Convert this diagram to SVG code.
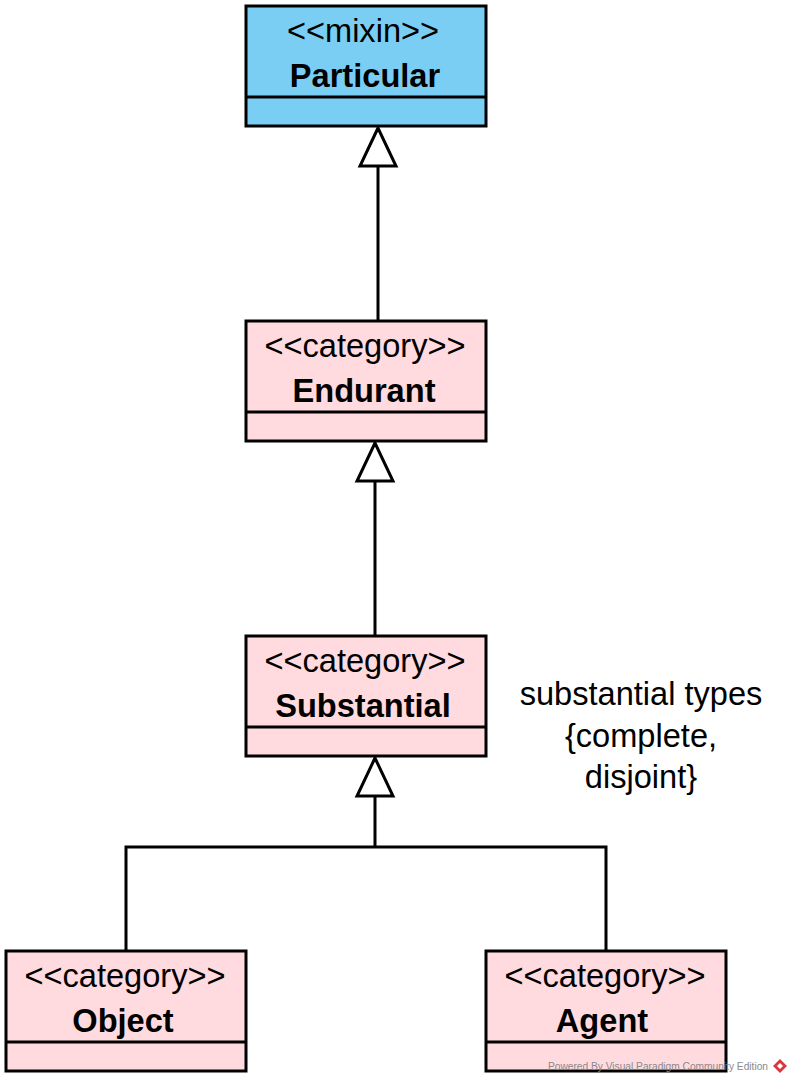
<svg xmlns="http://www.w3.org/2000/svg" width="792" height="1083" viewBox="0 0 792 1083">
<style>
.box{stroke:#000;stroke-width:3}
.blue{fill:#7ACEF4}
.pink{fill:#FFDADE}
.div{stroke:#000;stroke-width:3}
.st{font-family:"Liberation Sans",Arial,sans-serif;font-size:32.6px;text-anchor:middle;fill:#000}
.nm{font-family:"Liberation Sans",Arial,sans-serif;font-size:32.6px;font-weight:bold;text-anchor:middle;fill:#000}
.ln{stroke:#000;stroke-width:3;fill:none}
.head{fill:#fff;stroke:#000;stroke-width:3;stroke-linejoin:miter}
.note{font-family:"Liberation Sans",Arial,sans-serif;font-size:32.6px;text-anchor:middle;fill:#000}
.wm{font-family:"Liberation Sans",Arial,sans-serif;font-size:10px;fill:#8a8a8a}
</style>
<rect width="792" height="1083" fill="#fff"/>
<g id="connectors">
<line class="ln" x1="378" y1="164" x2="378" y2="321"/>
<polygon class="head" points="378,128 360,166 396,166"/>
<line class="ln" x1="375" y1="479" x2="375" y2="636"/>
<polygon class="head" points="375,443 357,481 393,481"/>
<polyline class="ln" points="126,951 126,847 606,847 606,951"/>
<line class="ln" x1="375" y1="794" x2="375" y2="847"/>
<polygon class="head" points="375,758 357,796 393,796"/>
</g>
<g id="particular">
<rect class="box blue" x="246" y="6" width="240" height="120"/>
<line class="div" x1="246" y1="97" x2="486" y2="97"/>
<text class="st" x="363" y="42">&lt;&lt;mixin&gt;&gt;</text>
<text class="nm" x="365" y="87">Particular</text>
</g>
<g id="endurant">
<rect class="box pink" x="246" y="321" width="240" height="120"/>
<line class="div" x1="246" y1="412" x2="486" y2="412"/>
<text class="st" x="365" y="357">&lt;&lt;category&gt;&gt;</text>
<text class="nm" x="364" y="402">Endurant</text>
</g>
<g id="substantial">
<rect class="box pink" x="246" y="636" width="240" height="120"/>
<line class="div" x1="246" y1="727" x2="486" y2="727"/>
<text class="st" x="365" y="672">&lt;&lt;category&gt;&gt;</text>
<text class="nm" x="363" y="717">Substantial</text>
</g>
<g id="object">
<rect class="box pink" x="6" y="951" width="240" height="120"/>
<line class="div" x1="6" y1="1042" x2="246" y2="1042"/>
<text class="st" x="125" y="987">&lt;&lt;category&gt;&gt;</text>
<text class="nm" x="123" y="1032">Object</text>
</g>
<g id="agent">
<rect class="box pink" x="486" y="951" width="240" height="120"/>
<line class="div" x1="486" y1="1042" x2="726" y2="1042"/>
<text class="st" x="605" y="987">&lt;&lt;category&gt;&gt;</text>
<text class="nm" x="602" y="1032">Agent</text>
</g>
<g id="note">
<text class="note" x="641" y="705">substantial types</text>
<text class="note" x="641" y="747">{complete,</text>
<text class="note" x="641" y="788">disjoint}</text>
</g>
<g id="watermark">
<text class="wm" x="548" y="1070" textLength="220" lengthAdjust="spacingAndGlyphs">Powered By Visual Paradigm Community Edition</text>
<polygon points="780,1059 787,1066 780,1073 773,1066" fill="#d9363e"/>
<polygon points="780,1063 783,1066 780,1069 777,1066" fill="#fff"/>
</g>
</svg>
